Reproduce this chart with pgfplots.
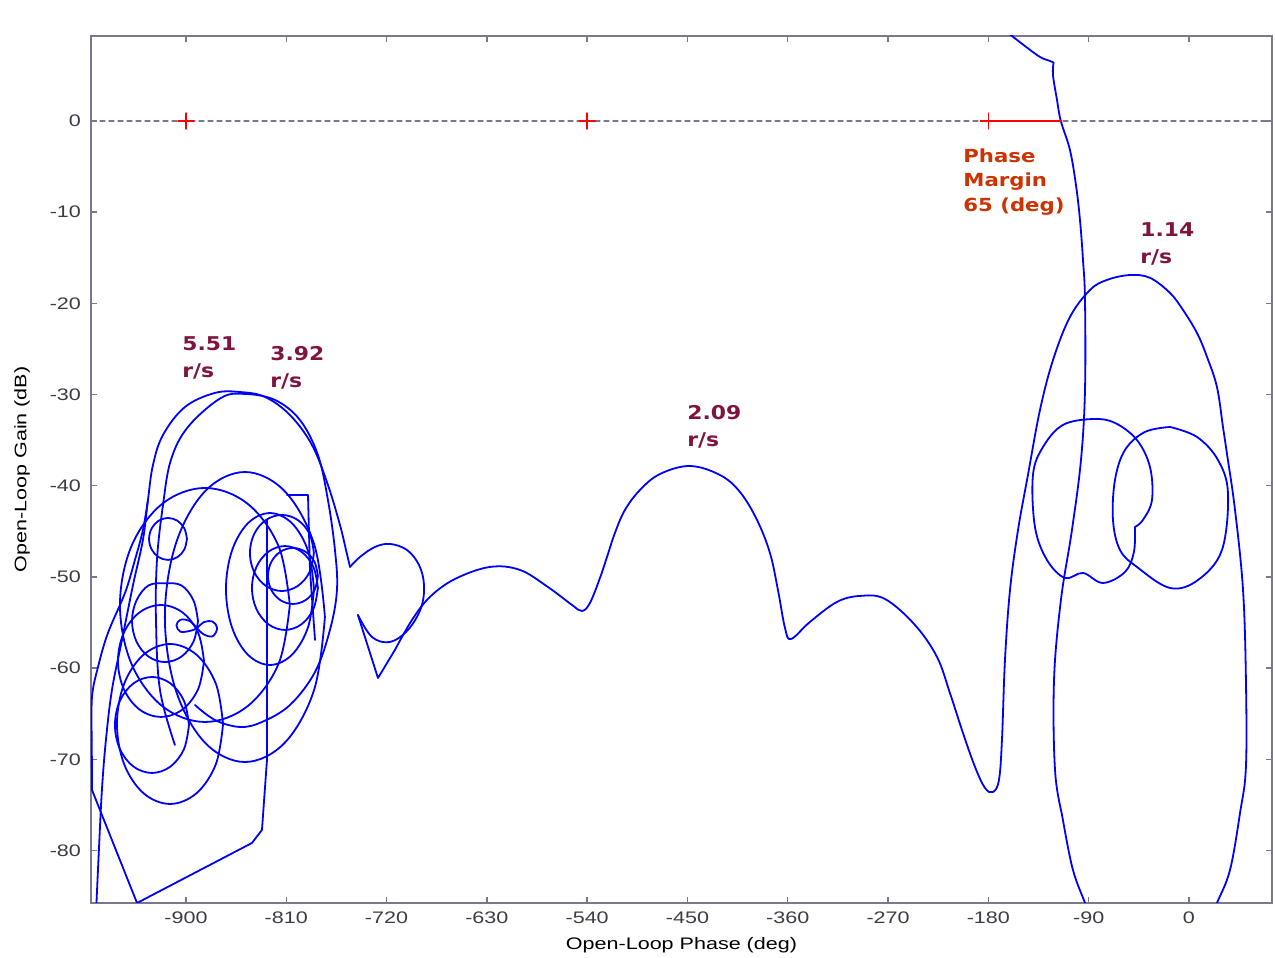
\documentclass[border=0pt]{standalone}
\usepackage{pgfplots}
\pgfplotsset{compat=1.18}
\usepackage{fontspec}
\setmainfont{Liberation Sans}[FakeStretch=1.29]
\newfontfamily\annfont{DejaVu Sans}[FakeStretch=1.15]
\newfontfamily\pmfont{DejaVu Sans}[FakeStretch=1.18]

\definecolor{axisgray}{RGB}{120,120,145}
\definecolor{ticktext}{RGB}{60,60,70}
\definecolor{annmaroon}{RGB}{128,20,64}
\definecolor{pmorange}{RGB}{204,51,0}
\definecolor{curveblue}{RGB}{0,0,255}

\begin{document}
\begin{tikzpicture}
\useasboundingbox (-45.5pt,-27.5pt) rectangle (592pt,451.5pt);
\begin{axis}[
  at={(0pt,0pt)}, anchor=south west,
  scale only axis, width=590.5pt, height=433.5pt,
  xmin=-985.2, xmax=74.5, ymin=-85.75, ymax=9.32,
  axis line style={axisgray, line width=0.8pt},
  tick style={axisgray, line width=0.7pt},
  major tick length=3pt, tick align=inside, tick pos=both,
  xtick={-900,-810,-720,-630,-540,-450,-360,-270,-180,-90,0},
  xticklabels={-900,-810,-720,-630,-540,-450,-360,-270,-180,-90,0},
  ytick={-80,-70,-60,-50,-40,-30,-20,-10,0},
  yticklabels={-80,-70,-60,-50,-40,-30,-20,-10,0},
  ticklabel style={font=\fontsize{8.35}{10}\selectfont, text=ticktext},
  xticklabel style={yshift=-1pt},
  yticklabel style={xshift=-1.5pt},
  xlabel={Open-Loop Phase (deg)},
  ylabel={Open-Loop Gain (dB)},
  label style={font=\fontsize{8.35}{10}\selectfont},
  xlabel style={at={(axis description cs:0.5,-0.0484)}, anchor=center},
  ylabel style={at={(axis description cs:-0.0584,0.5)}, anchor=center},
  clip=true,
  every axis plot/.append style={line join=round, line cap=round},
  nic/.style={curveblue, line width=0.9pt, smooth, tension=0.6},
  seg/.style={curveblue, line width=0.9pt},
]

% 0 dB reference line
\addplot[axisgray, line width=0.6pt, dash pattern=on 2.5pt off 2pt] coordinates {(-985.2,0) (74.5,0)};

% main open-loop response, piece by piece
\addplot[nic] coordinates {
(-980.8,-87.1) (-978.1,-79.93) (-975.4,-73.36) (-971.8,-67.87) (-966.4,-62.39)
(-957.4,-56.91) (-947.5,-50.88) (-938.6,-45.94) (-934.1,-41.56) (-929.6,-37.72)
(-920.6,-34.43) (-900.9,-31.36) (-874.0,-29.82) (-851.5,-29.72) (-829.1,-30.26)
(-806.7,-32.24) (-786.9,-35.53) (-772.6,-39.91) (-761.8,-44.30) (-756.4,-47.04)
(-752.8,-48.90)
};
\addplot[nic] coordinates {
(-752.8,-48.90) (-743.9,-47.81) (-730.4,-46.71) (-716.9,-46.38) (-701.7,-47.04)
(-690.9,-48.68) (-686.4,-50.88) (-689.1,-53.40) (-700.8,-55.81) (-716.9,-57.13)
(-733.1,-56.58) (-745.7,-54.17)
};
\addplot[seg] coordinates {(-745.7,-54.17) (-727.7,-61.08) (-712.5,-58.00)};
\addplot[nic] coordinates {
(-712.5,-58.00) (-697.2,-54.72) (-681.1,-52.19) (-658.6,-50.22) (-627.2,-48.90)
(-600.3,-49.23) (-575.2,-51.10) (-553.6,-53.07) (-544.7,-53.73) (-537.5,-52.85)
(-528.5,-50.11) (-522.2,-47.81) (-515.1,-45.18) (-506.1,-42.65) (-492.6,-40.46)
(-474.7,-38.71) (-447.8,-37.83) (-420.8,-38.82) (-402.9,-40.68) (-387.6,-43.75)
(-376.0,-47.37) (-368.8,-51.43) (-362.5,-55.59) (-357.1,-56.80) (-340.1,-54.93)
(-315.9,-52.74) (-295.2,-52.08) (-272.8,-52.41) (-245.9,-55.26) (-226.1,-58.77)
(-214.5,-62.72) (-202.8,-67.11) (-192.0,-70.83) (-183.0,-73.14) (-175.9,-73.58)
(-170.5,-72.26) (-167.8,-67.87) (-165.1,-59.10) (-160.6,-51.43) (-153.4,-44.85)
(-144.5,-38.82) (-133.7,-31.69) (-122.0,-26.21) (-106.8,-21.49) (-88.8,-18.53)
(-73.6,-17.43) (-52.9,-16.89) (-35.0,-17.2) (-17.0,-18.86) (-5.4,-20.72)
(7.2,-23.25) (16.2,-25.88) (25.1,-29.17) (30.5,-33.55) (34.1,-36.5)
(41.3,-42.65) (48.5,-51.43) (51.1,-61.29) (51.1,-70.83) (45.8,-75.88)
(36.8,-82.13) (25.1,-85.75) (18.8,-87.6)
};

% low-frequency branch through the 0 dB crossing
\addplot[nic] coordinates {
(-165.1,9.98) (-158.8,9.32) (-147.2,8.22) (-133.7,7.02) (-124.7,6.58)
(-121.5,6.40)
};
\addplot[nic] coordinates {
(-121.5,6.40) (-122.0,5.00) (-118.4,2.30) (-115.0,0) (-106.8,-3.18) (-101.4,-7.02)
(-97.8,-10.86) (-95.1,-15.24) (-93.3,-19.63) (-93.3,-29.50) (-96.9,-37.17)
(-105.0,-44.85) (-114.9,-52.52) (-121.1,-61.29) (-120.2,-71.16) (-113.1,-76.65)
(-104.1,-82.13) (-93.3,-85.75) (-88.8,-87.4)
};

% loops near -90 deg
\addplot[nic] coordinates {
(-48.5,-44.52) (-41.3,-43.75) (-33.2,-41.56) (-35.0,-37.94) (-46.7,-34.98)
(-66.4,-33.11) (-86.1,-32.68) (-113.1,-33.33) (-131.0,-35.75) (-140.0,-38.82)
(-138.2,-44.52) (-127.4,-48.14) (-111.3,-50.11) (-95.1,-49.56) (-77.2,-50.66)
(-57.4,-49.45) (-49.4,-47.26) (-48.5,-44.52)
};
\addplot[nic] coordinates {
(-17.0,-33.55) (7.2,-34.65) (26.0,-37.17) (35.0,-40.79) (29.6,-47.04)
(8.1,-50.33) (-17.0,-51.21) (-46.7,-48.90) (-61.9,-47.04) (-68.2,-43.75)
(-66.4,-39.36) (-57.4,-36.07) (-39.5,-34.10) (-17.0,-33.55)
};

% high-frequency loops
\addplot[nic] coordinates {
(-909.9,-68.42) (-923.3,-62.39) (-926.9,-54.72) (-926.0,-48.14) (-920.6,-42.11)
(-913.5,-37.17) (-898.2,-33.55) (-868.6,-30.37) (-847.1,-29.93) (-820.1,-30.59)
(-797.7,-32.79) (-781.6,-36.62) (-772.6,-41.56) (-766.3,-47.04) (-764.5,-51.43)
(-770.8,-55.81) (-784.2,-60.42) (-806.7,-64.04) (-831.8,-65.90) (-851.5,-66.45)
(-874.0,-65.68) (-891.9,-64.04)
};
\addplot[nic] coordinates {
(-775.3,-54.39) (-784.9,-46.44) (-811.2,-40.62) (-847.1,-38.49) (-883.0,-40.62)
(-909.3,-46.44) (-918.9,-54.39) (-909.3,-62.34) (-883.0,-68.16) (-847.1,-70.29)
(-811.2,-68.16) (-784.9,-62.34) (-775.3,-54.39)
};
\addplot[nic] coordinates {
(-806.8,-53.07) (-816.8,-46.65) (-844.8,-41.96) (-882.9,-40.24) (-921.1,-41.96)
(-949.0,-46.65) (-959.2,-53.07) (-949.0,-59.49) (-921.1,-64.18) (-882.9,-65.90)
(-844.8,-64.18) (-816.8,-59.49) (-806.8,-53.07)
};
\addplot[nic] coordinates {
(-785.1,-51.32) (-790.4,-47.15) (-804.9,-44.11) (-824.6,-42.99) (-844.4,-44.11)
(-858.8,-47.15) (-864.1,-51.32) (-858.8,-55.49) (-844.4,-58.53) (-824.6,-59.65)
(-804.9,-58.53) (-790.4,-55.49) (-785.1,-51.32)
};
\addplot[nic] coordinates {
(-781.6,-51.21) (-785.6,-48.91) (-796.4,-47.23) (-811.2,-46.61) (-826.0,-47.23)
(-836.8,-48.91) (-840.8,-51.21) (-836.8,-53.51) (-826.0,-55.19) (-811.2,-55.81)
(-796.4,-55.19) (-785.6,-53.51) (-781.6,-51.21)
};
\addplot[nic] coordinates {
(-781.6,-49.89) (-784.6,-48.35) (-792.8,-47.23) (-804.0,-46.82) (-815.2,-47.23)
(-823.4,-48.35) (-826.4,-49.89) (-823.4,-51.43) (-815.2,-52.55) (-804.0,-52.96)
(-792.8,-52.55) (-784.6,-51.43) (-781.6,-49.89)
};
\addplot[nic] coordinates {
(-785.2,-47.37) (-789.0,-45.29) (-799.6,-43.76) (-813.9,-43.20) (-828.3,-43.76)
(-838.8,-45.29) (-842.6,-47.37) (-838.8,-49.45) (-828.3,-50.98) (-813.9,-51.54)
(-799.6,-50.98) (-789.0,-49.45) (-785.2,-47.37)
};
\addplot[nic] coordinates {
(-899.1,-45.83) (-901.4,-44.68) (-907.6,-43.84) (-916.1,-43.53) (-924.6,-43.84)
(-930.8,-44.68) (-933.1,-45.83) (-930.8,-46.98) (-924.6,-47.82) (-916.1,-48.13)
(-907.6,-47.82) (-901.4,-46.98) (-899.1,-45.83)
};
\addplot[nic] coordinates {
(-889.2,-54.83) (-893.2,-52.58) (-904.0,-50.93) (-918.8,-50.70) (-933.6,-50.93)
(-944.4,-52.58) (-948.4,-54.83) (-944.4,-57.08) (-933.6,-58.73) (-918.8,-59.33)
(-904.0,-58.73) (-893.2,-57.08) (-889.2,-54.83)
};
\addplot[nic] coordinates {
(-883.8,-59.21) (-889.0,-56.14) (-903.1,-53.89) (-922.4,-53.07) (-941.7,-53.89)
(-955.8,-56.14) (-961.0,-59.21) (-955.8,-62.28) (-941.7,-64.53) (-922.4,-65.35)
(-903.1,-64.53) (-889.0,-62.28) (-883.8,-59.21)
};
\addplot[nic] coordinates {
(-897.3,-66.23) (-901.7,-63.60) (-913.9,-61.67) (-930.5,-60.97) (-947.1,-61.67)
(-959.3,-63.60) (-963.7,-66.23) (-959.3,-68.86) (-947.1,-70.79) (-930.5,-71.49)
(-913.9,-70.79) (-901.7,-68.86) (-897.3,-66.23)
};
\addplot[nic] coordinates {
(-866.7,-66.12) (-873.1,-61.73) (-890.5,-58.53) (-914.3,-57.35) (-938.1,-58.53)
(-955.5,-61.73) (-961.9,-66.12) (-955.5,-70.51) (-938.1,-73.71) (-914.3,-74.89)
(-890.5,-73.71) (-873.1,-70.51) (-866.7,-66.12)
};
% small double loop
\addplot[nic] coordinates {
(-890.1,-55.6) (-897,-54.8) (-905,-54.7) (-908.5,-55.3) (-905,-56.0) (-896,-55.9)
(-890.1,-55.6) (-884,-54.95) (-876,-54.9) (-872,-55.6) (-876,-56.5) (-884,-56.3)
(-890.1,-55.6)
};
% straight segments between samples
\addplot[seg] coordinates {
(-827.3,-43.75) (-827.3,-70.07) (-831.8,-77.74) (-840.8,-79.17)
(-943.9,-85.75) (-984.3,-73.36) (-984.5,-67.87)
};
\addplot[nic] coordinates {
(-984.5,-67.87) (-984.3,-63.16) (-978.9,-59.87) (-970.0,-56.14) (-954.7,-51.75)
(-945.8,-48.14) (-938.6,-44.85) (-934.1,-41.56)
};
\addplot[seg] coordinates {
(-809.4,-41.01) (-790.5,-41.01) (-788.7,-49.23) (-784.2,-56.91)
};

% phase margin
\addplot[red, line width=0.8pt] coordinates {(-180,0) (-115,0)};
\addplot[red, only marks, mark=+, mark size=4pt, mark options={line width=0.7pt}]
  coordinates {(-900,0) (-540,0) (-180,0)};

% annotations
\node[anchor=west, align=left, inner sep=0pt, text=annmaroon,
  font=\annfont\bfseries\fontsize{9.5}{13.5}\selectfont] at (axis cs:-903.6,-25.93) {5.51\\r/s};
\node[anchor=west, align=left, inner sep=0pt, text=annmaroon,
  font=\annfont\bfseries\fontsize{9.5}{13.5}\selectfont] at (axis cs:-824.6,-27.03) {3.92\\r/s};
\node[anchor=west, align=left, inner sep=0pt, text=annmaroon,
  font=\annfont\bfseries\fontsize{9.5}{13.5}\selectfont] at (axis cs:-450.4,-33.55) {2.09\\r/s};
\node[anchor=west, align=left, inner sep=0pt, text=annmaroon,
  font=\annfont\bfseries\fontsize{9.5}{13.5}\selectfont] at (axis cs:-44.0,-13.43) {1.14\\r/s};
\node[anchor=west, align=left, inner sep=0pt, text=pmorange,
  font=\pmfont\bfseries\fontsize{9}{12.25}\selectfont] at (axis cs:-202.8,-6.69) {Phase\\Margin\\65 (deg)};

\node[font=\fontsize{8.35}{10}\selectfont, text=black] at (axis description cs:0.5,1.0242) {Nichols Chart};
\end{axis}
\end{tikzpicture}
\end{document}
